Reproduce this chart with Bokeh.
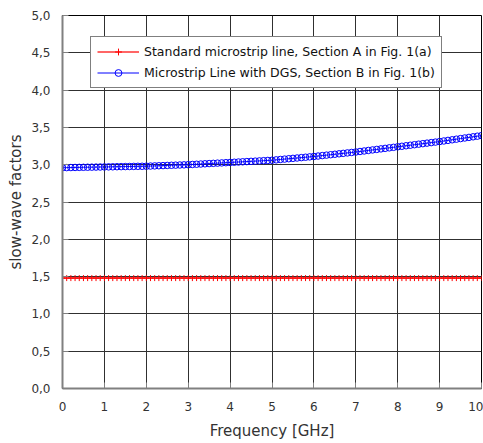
from bokeh.plotting import figure
from bokeh.models import FixedTicker, CustomJSTickFormatter, Legend, LegendItem, Range1d
from bokeh.embed import file_html
from bokeh.resources import INLINE

freq = [0.0, 0.1, 0.2, 0.3, 0.4, 0.5, 0.6, 0.7, 0.8, 0.9,
        1.0, 1.1, 1.2, 1.3, 1.4, 1.5, 1.6, 1.7, 1.8, 1.9,
        2.0, 2.1, 2.2, 2.3, 2.4, 2.5, 2.6, 2.7, 2.8, 2.9,
        3.0, 3.1, 3.2, 3.3, 3.4, 3.5, 3.6, 3.7, 3.8, 3.9,
        4.0, 4.1, 4.2, 4.3, 4.4, 4.5, 4.6, 4.7, 4.8, 4.9,
        5.0, 5.1, 5.2, 5.3, 5.4, 5.5, 5.6, 5.7, 5.8, 5.9,
        6.0, 6.1, 6.2, 6.3, 6.4, 6.5, 6.6, 6.7, 6.8, 6.9,
        7.0, 7.1, 7.2, 7.3, 7.4, 7.5, 7.6, 7.7, 7.8, 7.9,
        8.0, 8.1, 8.2, 8.3, 8.4, 8.5, 8.6, 8.7, 8.8, 8.9,
        9.0, 9.1, 9.2, 9.3, 9.4, 9.5, 9.6, 9.7, 9.8, 9.9,
        10.0]

standard_line = [1.48, 1.48, 1.48, 1.48, 1.48, 1.48, 1.48, 1.48, 1.48, 1.48,
                 1.48, 1.48, 1.48, 1.48, 1.48, 1.48, 1.48, 1.48, 1.48, 1.48,
                 1.48, 1.48, 1.48, 1.48, 1.48, 1.48, 1.48, 1.48, 1.48, 1.48,
                 1.48, 1.48, 1.48, 1.48, 1.48, 1.48, 1.48, 1.48, 1.48, 1.48,
                 1.48, 1.48, 1.48, 1.48, 1.48, 1.48, 1.48, 1.48, 1.48, 1.48,
                 1.48, 1.48, 1.48, 1.48, 1.48, 1.48, 1.48, 1.48, 1.48, 1.48,
                 1.48, 1.48, 1.48, 1.48, 1.48, 1.48, 1.48, 1.48, 1.48, 1.48,
                 1.48, 1.48, 1.48, 1.48, 1.48, 1.48, 1.48, 1.48, 1.48, 1.48,
                 1.48, 1.48, 1.48, 1.48, 1.48, 1.48, 1.48, 1.48, 1.48, 1.48,
                 1.48, 1.48, 1.48, 1.48, 1.48, 1.48, 1.48, 1.48, 1.48, 1.48,
                 1.48]

dgs_line = [2.960, 2.961, 2.962, 2.963, 2.964, 2.965, 2.966, 2.967, 2.968, 2.969,
            2.970, 2.971, 2.972, 2.973, 2.974, 2.975, 2.976, 2.977, 2.978, 2.979,
            2.980, 2.982, 2.984, 2.986, 2.988, 2.990, 2.992, 2.994, 2.996, 2.998,
            3.000, 3.003, 3.006, 3.009, 3.012, 3.015, 3.018, 3.021, 3.024, 3.027,
            3.030, 3.033, 3.036, 3.039, 3.042, 3.045, 3.048, 3.051, 3.054, 3.057,
            3.060, 3.065, 3.070, 3.075, 3.080, 3.085, 3.090, 3.095, 3.100, 3.105,
            3.110, 3.116, 3.122, 3.128, 3.134, 3.140, 3.146, 3.152, 3.158, 3.164,
            3.170, 3.177, 3.184, 3.191, 3.198, 3.205, 3.212, 3.219, 3.226, 3.233,
            3.240, 3.247, 3.254, 3.261, 3.268, 3.275, 3.282, 3.289, 3.296, 3.303,
            3.310, 3.318, 3.326, 3.334, 3.342, 3.350, 3.358, 3.366, 3.374, 3.382,
            3.390]

x_ticks = [0, 1, 2, 3, 4, 5, 6, 7, 8, 9, 10]
y_ticks = [0, 0.5, 1, 1.5, 2, 2.5, 3, 3.5, 4, 4.5, 5]

label_a = "Standard microstrip line, Section A in Fig. 1(a)"
label_b = "Microstrip Line with DGS, Section B in Fig. 1(b)"

FONT = "DejaVu Sans"

p = figure(width=483, height=443, output_backend="svg", toolbar_location=None,
           x_range=Range1d(0, 10), y_range=Range1d(0, 5),
           min_border_left=62, min_border_right=2, min_border_top=15, min_border_bottom=55)
p.background_fill_color = "white"
p.border_fill_color = "white"
p.outline_line_color = "black"
p.outline_line_width = 1

l1 = p.line(freq, standard_line, line_color="#ff0000", line_width=1.5, line_alpha=0.8)
s1 = p.scatter(freq, standard_line, marker="cross", size=6, line_color="#ff0000", line_width=1)
l2 = p.line(freq, dgs_line, line_color="#0000ff", line_width=1)
s2 = p.scatter(freq, dgs_line, marker="circle", size=6.5, line_color="#0000ff",
               fill_color=None, line_width=1)

p.xaxis.ticker = FixedTicker(ticks=x_ticks)
p.yaxis.ticker = FixedTicker(ticks=y_ticks)
p.yaxis.formatter = CustomJSTickFormatter(code="return tick.toFixed(1).replace('.', ',');")

for ax in (p.xaxis, p.yaxis):
    ax.axis_line_color = "#808080"
    ax.axis_line_width = 2
    ax.major_tick_in = 6
    ax.major_tick_out = 0
    ax.major_tick_line_color = "#808080"
    ax.minor_tick_line_color = None
    ax.major_label_text_font = FONT
    ax.major_label_text_font_size = "12px"
    ax.major_label_text_color = "#333333"
    ax.axis_label_text_font = FONT
    ax.axis_label_text_font_size = "15px"
    ax.axis_label_text_font_style = "normal"
    ax.axis_label_text_color = "#333333"

p.xaxis.axis_label = "Frequency [GHz]"
p.yaxis.axis_label = "slow-wave factors"
p.xaxis.major_label_standoff = 13
p.xaxis.axis_label_standoff = 8
p.yaxis.major_label_standoff = 12
p.yaxis.axis_label_standoff = 3

p.xgrid.grid_line_color = "#303030"
p.ygrid.grid_line_color = "#303030"
p.xgrid.grid_line_width = 1
p.ygrid.grid_line_width = 1

legend = Legend(items=[LegendItem(label=label_a, renderers=[l1, s1]),
                       LegendItem(label=label_b, renderers=[l2, s2])],
                location=(28, 300))
legend.border_line_color = "black"
legend.border_line_width = 1
legend.background_fill_color = "white"
legend.background_fill_alpha = 1
legend.padding = 6
legend.margin = 0
legend.spacing = 4
legend.glyph_width = 42
legend.glyph_height = 17
legend.label_height = 17
legend.label_standoff = 5
legend.label_text_font = FONT
legend.label_text_font_size = "12.5px"
legend.label_text_color = "#111111"
p.add_layout(legend)

open("out.html", "w").write(file_html(p, INLINE))
